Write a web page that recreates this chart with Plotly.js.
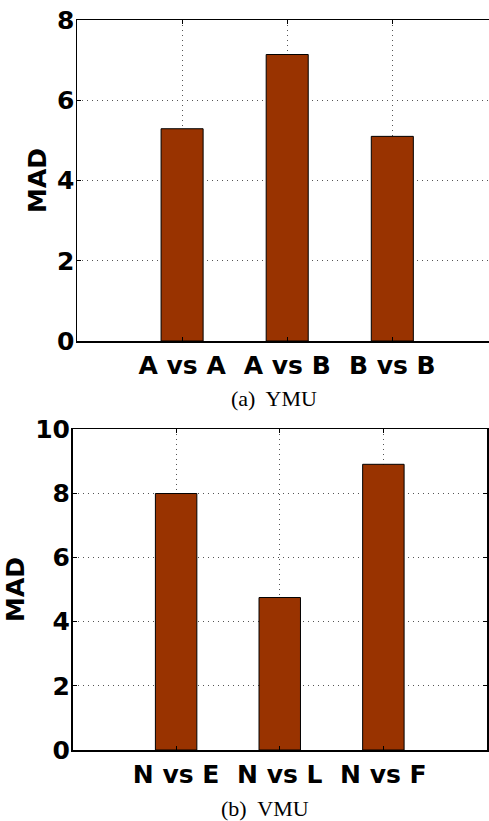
<!DOCTYPE html>
<html>
<head>
<meta charset="utf-8">
<script src="https://cdn.plot.ly/plotly-3.0.1.min.js"></script>
<style>html,body{margin:0;padding:0;background:#fff;}#chart{width:489px;height:821px;}</style>
</head>
<body>
<div id="chart"></div>
<script>
// Panel (a) YMU
const catsA = ['A vs A', 'A vs B', 'B vs B'];
const valsA = [5.29, 7.14, 5.10];
const ticksA = [0, 2, 4, 6, 8];
// Panel (b) VMU
const catsB = ['N vs E', 'N vs L', 'N vs F'];
const valsB = [7.99, 4.75, 8.90];
const ticksB = [0, 2, 4, 6, 8, 10];
const captionA = '(a)&nbsp; YMU';
const captionB = '(b)&nbsp; VMU';
const yTitle = 'MAD';

const W = 489, H = 821;
const barColor = '#993300';
const boldFont = {family: 'DejaVu Sans', size: 25, color: '#000', weight: 700};
const gridStyle = {showgrid: true, gridcolor: '#555', griddash: '1px,4px', gridwidth: 1};

function px(x){return x / W;}
function py(y){return 1 - y / H;}

const traces = [
  {type: 'bar', x: catsA, y: valsA, width: 0.4, xaxis: 'x', yaxis: 'y',
   marker: {color: barColor, line: {color: '#000', width: 1}}, hoverinfo: 'skip'},
  {type: 'bar', x: catsB, y: valsB, width: 0.4, xaxis: 'x2', yaxis: 'y2',
   marker: {color: barColor, line: {color: '#000', width: 1}}, hoverinfo: 'skip'}
];

const layout = {
  width: W, height: H,
  margin: {l: 0, r: 0, t: 0, b: 0},
  paper_bgcolor: '#fff', plot_bgcolor: '#fff',
  showlegend: false,
  xaxis: Object.assign({
    domain: [px(77), 1], anchor: 'y', type: 'category', range: [-1, 2.92],
    showline: true, linecolor: '#000', linewidth: 1.5, mirror: 'ticks',
    ticks: 'inside', ticklen: 4, tickcolor: '#000',
    tickfont: boldFont, ticklabelstandoff: 1, zeroline: false, fixedrange: true
  }, gridStyle),
  yaxis: Object.assign({
    domain: [py(341), py(20)], anchor: 'x', range: [0, 8], tickvals: ticksA,
    showline: true, linecolor: '#000', linewidth: 1.5, mirror: false,
    ticks: 'inside', ticklen: 4, tickcolor: '#000',
    tickfont: boldFont, ticklabelstandoff: -4, zeroline: false, fixedrange: true,
    title: {text: yTitle, font: {family: 'DejaVu Sans', size: 25, color: '#000', weight: 700}, standoff: 3}
  }, gridStyle),
  xaxis2: Object.assign({
    domain: [px(72.5), px(487)], anchor: 'y2', type: 'category', range: [-1, 3],
    showline: true, linecolor: '#000', linewidth: 1.5, mirror: 'ticks',
    ticks: 'inside', ticklen: 4, tickcolor: '#000',
    tickfont: boldFont, ticklabelstandoff: 1, zeroline: false, fixedrange: true
  }, gridStyle),
  yaxis2: Object.assign({
    domain: [py(750), py(429)], anchor: 'x2', range: [0, 10], tickvals: ticksB,
    showline: true, linecolor: '#000', linewidth: 1.5, mirror: 'ticks',
    ticks: 'inside', ticklen: 4, tickcolor: '#000',
    tickfont: boldFont, ticklabelstandoff: -4, zeroline: false, fixedrange: true,
    title: {text: yTitle, font: {family: 'DejaVu Sans', size: 25, color: '#000', weight: 700}, standoff: 3}
  }, gridStyle),
  annotations: [
    {text: captionA, xref: 'paper', yref: 'paper', x: px(229), y: py(398),
     xanchor: 'left', yanchor: 'middle', showarrow: false,
     font: {family: 'Liberation Serif', size: 22, color: '#000'}},
    {text: captionB, xref: 'paper', yref: 'paper', x: px(219), y: py(808),
     xanchor: 'left', yanchor: 'middle', showarrow: false,
     font: {family: 'Liberation Serif', size: 22, color: '#000'}}
  ]
};

Plotly.newPlot('chart', traces, layout, {displayModeBar: false, staticPlot: true});
</script>
</body>
</html>
